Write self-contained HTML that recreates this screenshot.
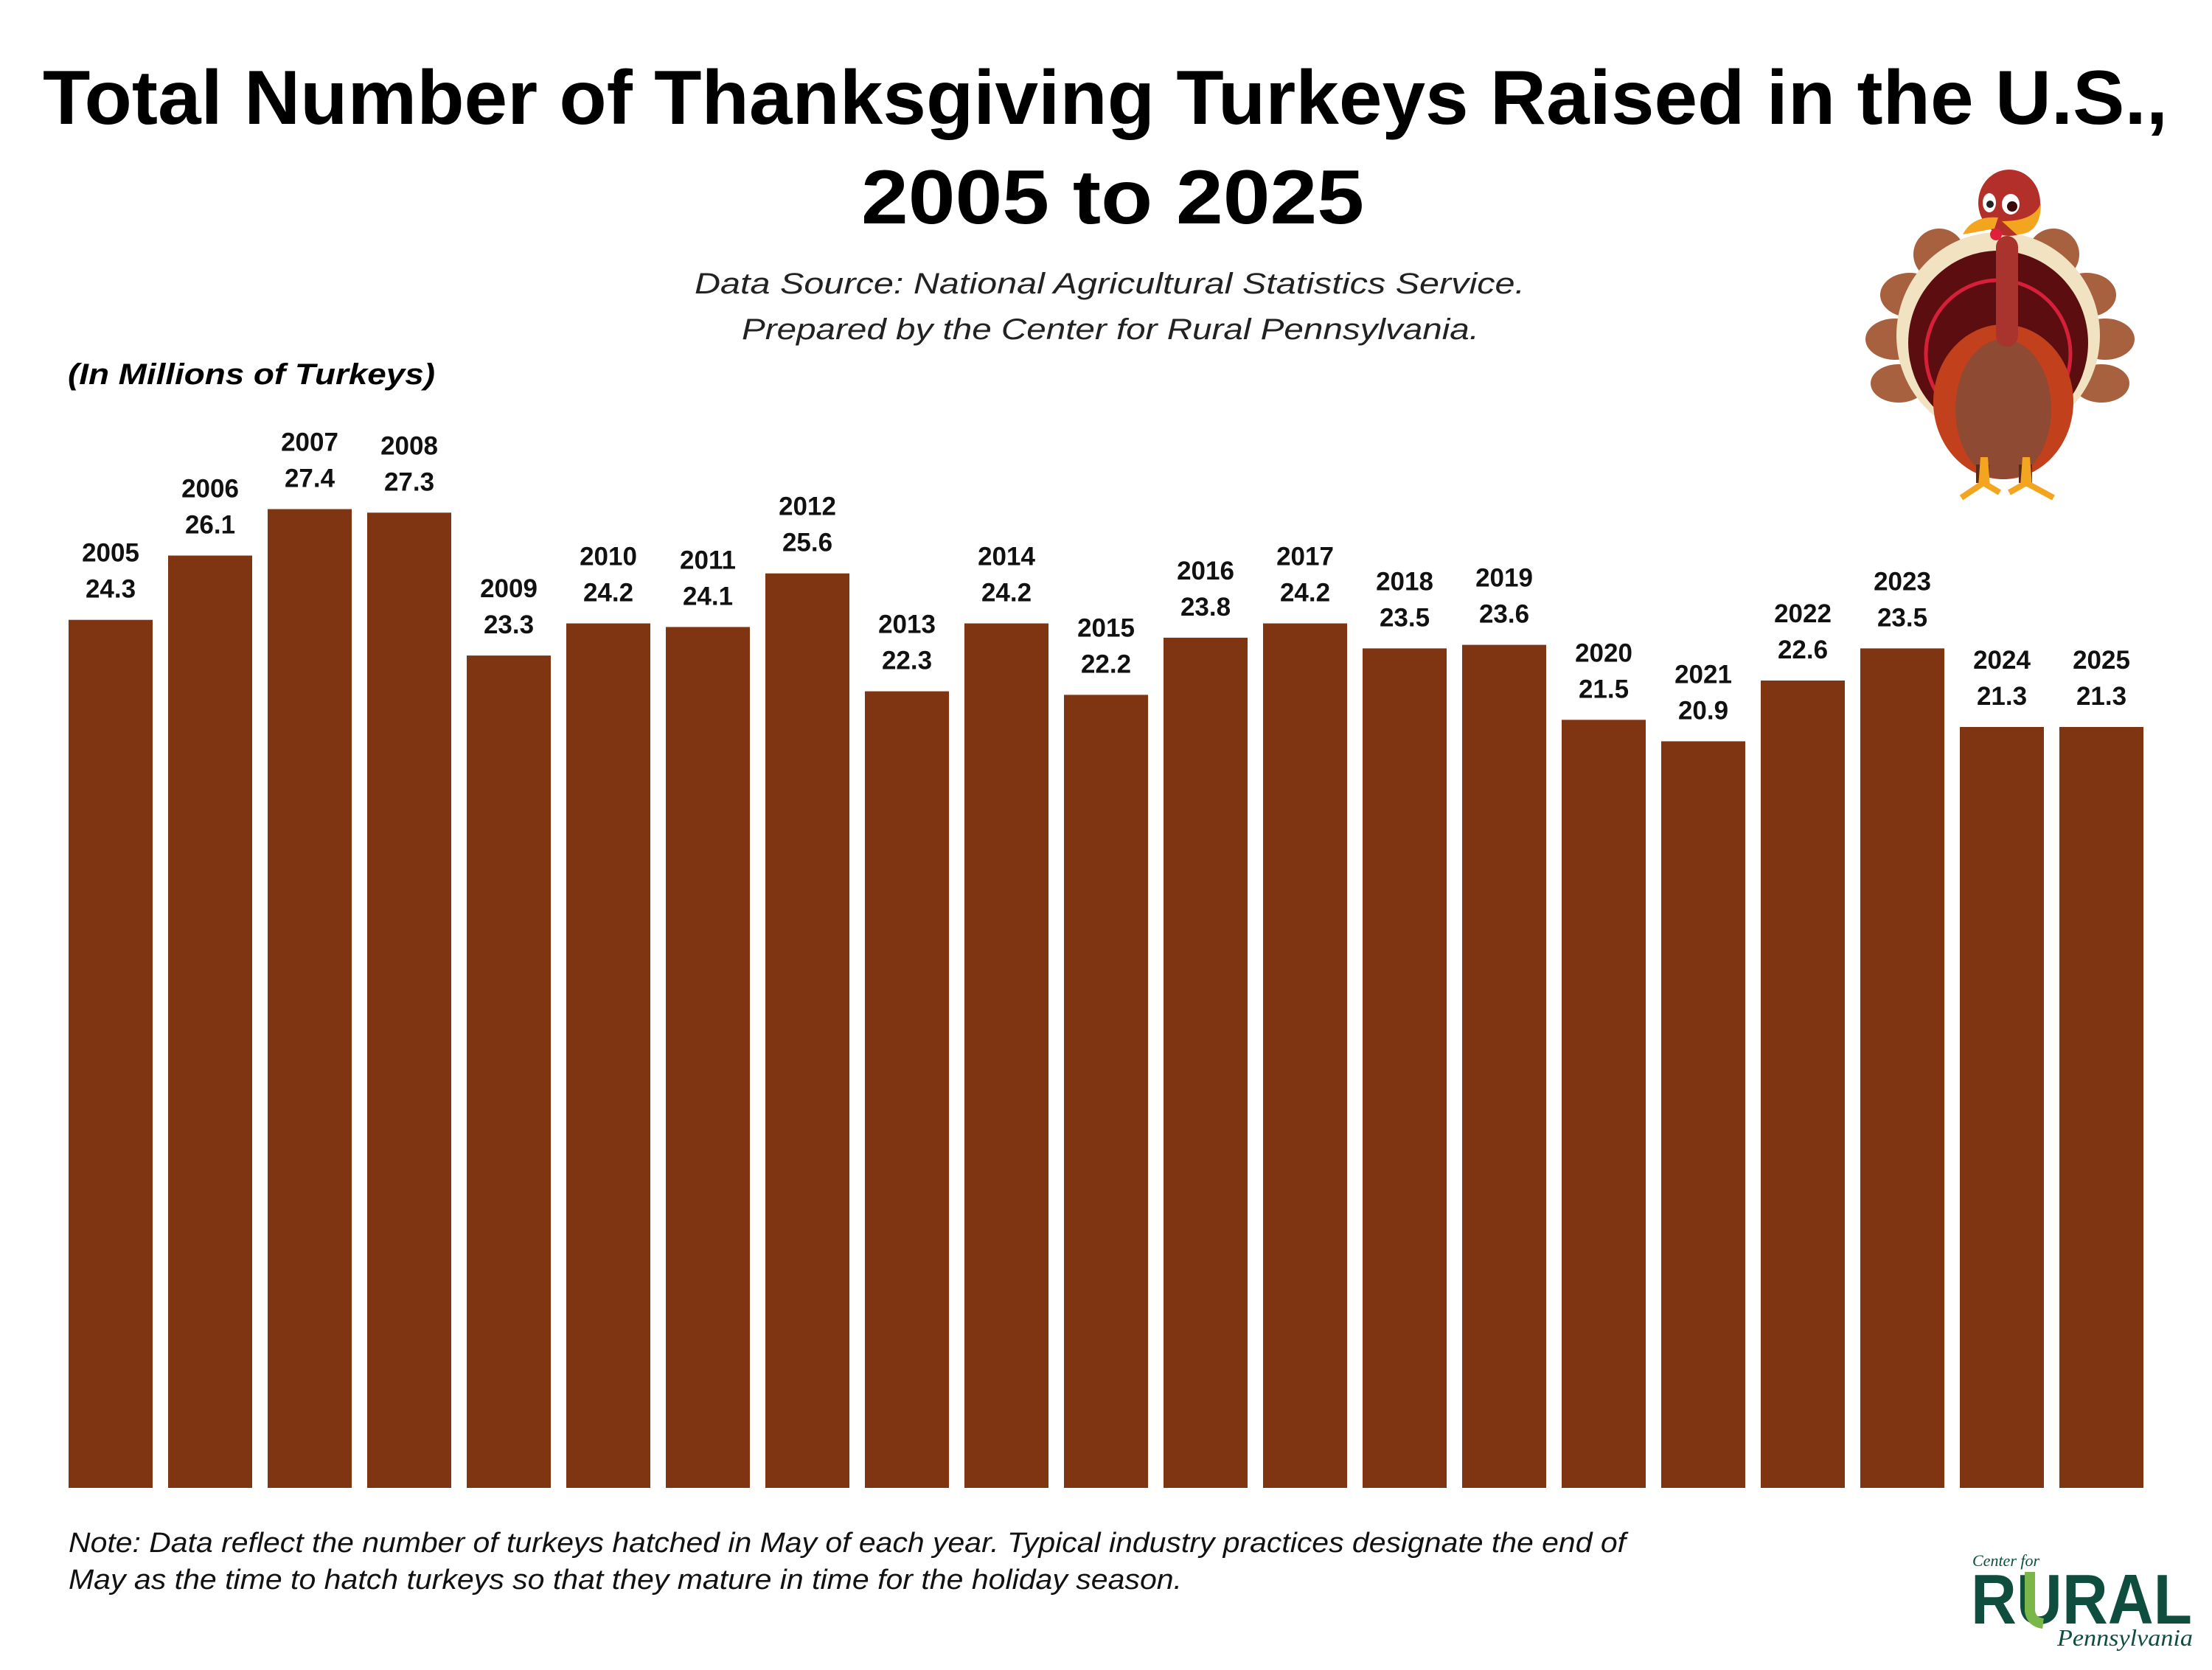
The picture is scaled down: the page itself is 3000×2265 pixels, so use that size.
<!DOCTYPE html>
<html><head><meta charset="utf-8"><style>
html,body{margin:0;padding:0;background:#fff;width:3000px;height:2265px;overflow:hidden}
svg{display:block}
.lb{font-family:"Liberation Sans",sans-serif;font-weight:bold;font-size:35px;fill:#111;text-anchor:middle}
</style></head><body>
<svg width="3000" height="2265" viewBox="0 0 3000 2265" xmlns="http://www.w3.org/2000/svg">
<rect width="3000" height="2265" fill="#fff"/>
<g font-family="Liberation Sans, sans-serif" fill="#000">
<text x="58" y="168" font-size="104" font-weight="bold" textLength="2882" lengthAdjust="spacingAndGlyphs">Total Number of Thanksgiving Turkeys Raised in the U.S.,</text>
<text x="1168" y="303" font-size="104" font-weight="bold" textLength="682" lengthAdjust="spacingAndGlyphs">2005 to 2025</text>
<text x="942" y="398" font-size="40" font-style="italic" fill="#222" textLength="1126" lengthAdjust="spacingAndGlyphs">Data Source: National Agricultural Statistics Service.</text>
<text x="1006" y="460" font-size="40" font-style="italic" fill="#222" textLength="1000" lengthAdjust="spacingAndGlyphs">Prepared by the Center for Rural Pennsylvania.</text>
<text x="92" y="521" font-size="40" font-style="italic" font-weight="bold" textLength="498" lengthAdjust="spacingAndGlyphs">(In Millions of Turkeys)</text>
<text x="93" y="2105" font-size="38" font-style="italic" fill="#111" textLength="2112" lengthAdjust="spacingAndGlyphs">Note: Data reflect the number of turkeys hatched in May of each year. Typical industry practices designate the end of</text>
<text x="93" y="2155" font-size="38" font-style="italic" fill="#111" textLength="1510" lengthAdjust="spacingAndGlyphs">May as the time to hatch turkeys so that they mature in time for the holiday season.</text>
</g>
<g fill="#7f3412">
<rect x="93" y="840.7" width="114" height="1177.3"/>
<rect x="228" y="753.5" width="114" height="1264.5"/>
<rect x="363" y="690.5" width="114" height="1327.5"/>
<rect x="498" y="695.3" width="114" height="1322.7"/>
<rect x="633" y="889.1" width="114" height="1128.9"/>
<rect x="768" y="845.5" width="114" height="1172.5"/>
<rect x="903" y="850.4" width="114" height="1167.6"/>
<rect x="1038" y="777.7" width="114" height="1240.3"/>
<rect x="1173" y="937.6" width="114" height="1080.4"/>
<rect x="1308" y="845.5" width="114" height="1172.5"/>
<rect x="1443" y="942.4" width="114" height="1075.6"/>
<rect x="1578" y="864.9" width="114" height="1153.1"/>
<rect x="1713" y="845.5" width="114" height="1172.5"/>
<rect x="1848" y="879.4" width="114" height="1138.6"/>
<rect x="1983" y="874.6" width="114" height="1143.4"/>
<rect x="2118" y="976.3" width="114" height="1041.7"/>
<rect x="2253" y="1005.4" width="114" height="1012.6"/>
<rect x="2388" y="923" width="114" height="1095"/>
<rect x="2523" y="879.4" width="114" height="1138.6"/>
<rect x="2658" y="986" width="114" height="1032"/>
<rect x="2793" y="986" width="114" height="1032"/>
</g>
<g>
<text class="lb" x="150" y="761.7">2005</text><text class="lb" x="150" y="810.7">24.3</text>
<text class="lb" x="285" y="674.5">2006</text><text class="lb" x="285" y="723.5">26.1</text>
<text class="lb" x="420" y="611.5">2007</text><text class="lb" x="420" y="660.5">27.4</text>
<text class="lb" x="555" y="616.3">2008</text><text class="lb" x="555" y="665.3">27.3</text>
<text class="lb" x="690" y="810.1">2009</text><text class="lb" x="690" y="859.1">23.3</text>
<text class="lb" x="825" y="766.5">2010</text><text class="lb" x="825" y="815.5">24.2</text>
<text class="lb" x="960" y="771.4">2011</text><text class="lb" x="960" y="820.4">24.1</text>
<text class="lb" x="1095" y="698.7">2012</text><text class="lb" x="1095" y="747.7">25.6</text>
<text class="lb" x="1230" y="858.6">2013</text><text class="lb" x="1230" y="907.6">22.3</text>
<text class="lb" x="1365" y="766.5">2014</text><text class="lb" x="1365" y="815.5">24.2</text>
<text class="lb" x="1500" y="863.4">2015</text><text class="lb" x="1500" y="912.4">22.2</text>
<text class="lb" x="1635" y="785.9">2016</text><text class="lb" x="1635" y="834.9">23.8</text>
<text class="lb" x="1770" y="766.5">2017</text><text class="lb" x="1770" y="815.5">24.2</text>
<text class="lb" x="1905" y="800.4">2018</text><text class="lb" x="1905" y="849.4">23.5</text>
<text class="lb" x="2040" y="795.6">2019</text><text class="lb" x="2040" y="844.6">23.6</text>
<text class="lb" x="2175" y="897.3">2020</text><text class="lb" x="2175" y="946.3">21.5</text>
<text class="lb" x="2310" y="926.4">2021</text><text class="lb" x="2310" y="975.4">20.9</text>
<text class="lb" x="2445" y="844">2022</text><text class="lb" x="2445" y="893">22.6</text>
<text class="lb" x="2580" y="800.4">2023</text><text class="lb" x="2580" y="849.4">23.5</text>
<text class="lb" x="2715" y="907">2024</text><text class="lb" x="2715" y="956">21.3</text>
<text class="lb" x="2850" y="907">2025</text><text class="lb" x="2850" y="956">21.3</text>
</g>
<!-- turkey -->
<g>
<g fill="#a8613f">
<ellipse cx="2590" cy="400" rx="40" ry="30"/><ellipse cx="2570" cy="460" rx="40" ry="28"/><ellipse cx="2575" cy="520" rx="38" ry="26"/>
<ellipse cx="2630" cy="345" rx="35" ry="35"/><ellipse cx="2785" cy="345" rx="35" ry="35"/>
<ellipse cx="2830" cy="400" rx="40" ry="30"/><ellipse cx="2855" cy="460" rx="40" ry="28"/><ellipse cx="2850" cy="520" rx="38" ry="26"/>
</g>
<ellipse cx="2710" cy="455" rx="138" ry="140" fill="#f1e3c2"/>
<ellipse cx="2710" cy="465" rx="122" ry="125" fill="#5c0d10"/>
<ellipse cx="2710" cy="480" rx="98" ry="100" fill="none" stroke="#d6203a" stroke-width="5"/>
<ellipse cx="2717" cy="545" rx="95" ry="105" fill="#c2401c"/>
<ellipse cx="2717" cy="555" rx="65" ry="95" fill="#8e4a33"/>
<rect x="2707" y="320" width="30" height="150" rx="15" fill="#a9332d"/>
<ellipse cx="2725" cy="275" rx="42" ry="45" fill="#b3302a"/>
<ellipse cx="2698" cy="275" rx="9" ry="13" fill="#fff"/><circle cx="2699" cy="277" r="5" fill="#222"/>
<ellipse cx="2727" cy="277" rx="12" ry="14" fill="#fff"/><circle cx="2729" cy="280" r="7" fill="#3a0a0a"/>
<path d="M2662 318 Q2675 292 2710 295 L2705 310 Z" fill="#f3a51f"/>
<path d="M2715 300 Q2760 300 2768 275 Q2768 318 2735 318 Z" fill="#f3a51f"/>
<circle cx="2707" cy="318" r="8" fill="#e0203a"/>
<rect x="2680" y="630" width="18" height="25" fill="#5c2a1a"/><rect x="2738" y="630" width="18" height="25" fill="#5c2a1a"/>
<path d="M2683 660 L2686 620 L2696 620 L2699 660 Z M2740 660 L2743 620 L2753 620 L2756 660 Z" fill="#f3a51f"/>
<path d="M2660 675 L2690 655 L2712 668 M2725 668 L2748 655 L2785 675" stroke="#f3a51f" stroke-width="8" fill="none"/>
</g>
<!-- logo -->
<g font-family="Liberation Serif, serif">
<text x="2675" y="2124" font-size="22" font-style="italic" fill="#0f4d3f">Center for</text>
<text x="2673" y="2202" font-family="Liberation Sans, sans-serif" font-weight="bold" font-size="96" fill="#0f4d3f" textLength="300" lengthAdjust="spacingAndGlyphs">RURAL</text>
<path d="M2753 2132 L2753 2185 Q2755 2200 2771 2202" stroke="#7ab648" stroke-width="14" fill="none"/>
<text x="2790" y="2232" font-size="32" font-style="italic" fill="#0f4d3f" textLength="184" lengthAdjust="spacingAndGlyphs">Pennsylvania</text>
</g>
</svg>
</body></html>
